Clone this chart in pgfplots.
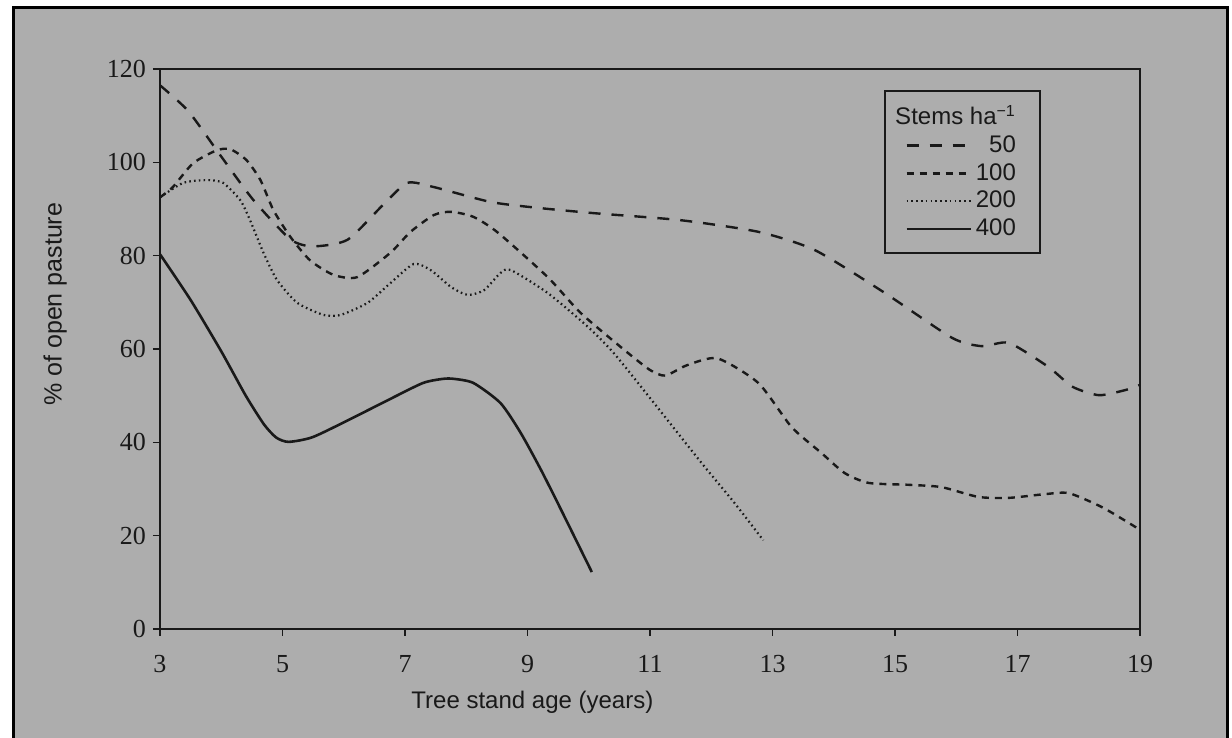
\documentclass[border=0pt]{standalone}
\usepackage{pgfplots}
\pgfplotsset{compat=1.18}
\usepackage{fontspec}
\setmainfont{Liberation Serif}
\newfontfamily\labfont{Liberation Sans}
\definecolor{bggray}{RGB}{173,173,173}
\definecolor{ink}{RGB}{25,25,25}
\begin{document}
\begin{tikzpicture}[x=1pt,y=1pt]
\fill[white] (0,0) rectangle (616,369);
\fill[bggray] (6.5,0) rectangle (613.5,365);
\draw[black, line width=1.5pt] (6.5,0) -- (6.5,365) -- (613.5,365) -- (613.5,0);
\begin{axis}[
  at={(80pt,54.5pt)}, anchor=south west,
  scale only axis, width=490pt, height=280pt,
  xmin=3, xmax=19, ymin=0, ymax=120,
  xtick={3,5,...,19}, ytick={0,20,...,120},
  tick align=outside, xtick pos=left, ytick pos=left,
  major tick length=3.5pt,
  axis line style={line width=1.1pt, ink},
  tick style={line width=0.8pt, ink},
  /pgf/number format/assume math mode=true,
  tick label style={font=\fontsize{13}{13}\selectfont, text=ink},
  xticklabel style={yshift=-6pt},
  xlabel={Tree stand age (years)},
  ylabel={\% of open pasture},
  every axis x label/.style={at={(axis description cs:0.38,-0.13)}, anchor=center, font=\labfont\fontsize{12}{12}\selectfont, text=ink},
  every axis y label/.style={at={(axis description cs:-0.107,0.58)}, rotate=90, anchor=center, font=\labfont\fontsize{12.5}{12.5}\selectfont, text=ink},
  legend style={at={(axis description cs:0.739,0.9625)}, anchor=north west, draw=ink, line width=1pt, fill=none,
    font=\labfont\fontsize{12}{13}\selectfont, text=ink, cells={anchor=east}, row sep=0pt, inner xsep=10pt, inner ysep=5pt},
  legend image code/.code={\draw[#1] (0pt,0pt) -- (32pt,0pt);},
]
\addlegendimage{empty legend}
\addlegendentry{\hspace{-43pt}Stems ha\textsuperscript{−1}}

\addplot[ink, line width=1.2pt, dash pattern=on 6pt off 5.5pt, smooth, tension=0.4] coordinates {
(3,116.5) (3.46,111) (3.98,101.6) (4.52,92) (5.13,83.5) (5.5,82) (6.06,83.4) (6.65,91) (7.04,95.6) (7.47,94.7) (8.4,91.5) (9.2,90.2) (10.09,89.1) (11.5,87.6) (12.77,85.1) (13.69,81.2) (14.8,72.3) (15.93,62.4) (16.42,60.6) (16.86,61.3) (17.5,56.2) (17.9,51.9) (18.33,50.1) (18.76,51.2) (19,52.3)
};
\addlegendentry{50}

\addplot[ink, line width=1.2pt, dash pattern=on 3.5pt off 3pt, smooth, tension=0.4] coordinates {
(3,92.5) (3.21,94.7) (3.54,99.8) (3.93,102.6) (4.15,102.8) (4.41,100.5) (4.64,96.2) (4.85,89.8) (5.13,84) (5.45,79) (5.83,75.9) (6.22,75.4) (6.76,80.6) (7.09,85.1) (7.47,88.7) (7.75,89.4) (8.12,88.3) (8.52,84.9) (9.33,75.4) (9.87,67.7) (10.58,59.8) (11.0,55.5) (11.25,54.3) (11.6,56.5) (12.1,58) (12.77,52.7) (13.31,43.3) (13.8,37.7) (14.18,33.4) (14.57,31.3) (15.22,30.9) (15.76,30.4) (16.36,28.3) (16.86,28.1) (17.45,28.9) (17.84,29.1) (18.38,26.1) (18.92,21.9) (19,21)
};
\addlegendentry{100}

\addplot[ink, line width=1.1pt, dash pattern=on 0.8pt off 1.6pt, smooth, tension=0.4] coordinates {
(3,92.5) (3.38,95.6) (3.77,96.2) (4.03,95.6) (4.31,91.9) (4.47,87.6) (4.69,80.6) (4.91,74.8) (5.24,69.9) (5.67,67.3) (5.95,67.3) (6.39,69.9) (6.76,74.1) (7.14,78.2) (7.42,76.9) (7.75,73.3) (8.02,71.6) (8.29,72.6) (8.56,76.3) (8.73,76.9) (9.33,72) (9.99,64.7) (10.41,59.1) (11.0,49.5) (11.84,35.6) (12.38,27) (12.85,19)
};
\addlegendentry{200}

\addplot[ink, line width=1.3pt, smooth, tension=0.4] coordinates {
(3,80.3) (3.5,70.5) (4,59.5) (4.4,50) (4.7,43.8) (4.9,41) (5.1,40.1) (5.49,41.1) (6.08,44.8) (6.73,49.1) (7.29,52.7) (7.62,53.6) (7.8,53.6) (8.12,52.7) (8.56,48.4) (8.89,42) (9.22,34.1) (9.55,25.5) (10.05,12.2)
};
\addlegendentry{400}
\end{axis}
\pgfresetboundingbox
\useasboundingbox (0,0) rectangle (616,369);
\end{tikzpicture}
\end{document}
